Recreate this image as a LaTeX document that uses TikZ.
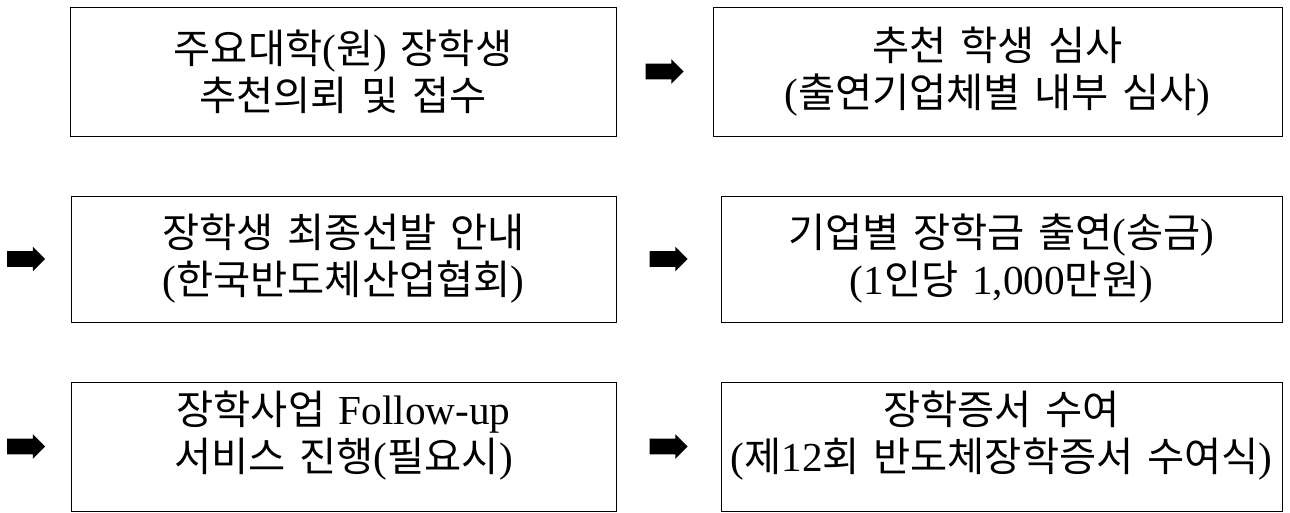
\documentclass[tikz,border=0pt]{standalone}
\usepackage{fontspec}
\setmainfont{Noto Sans CJK KR}[WordSpace=1.5]
\newfontfamily\tms[Scale=1.02]{Liberation Serif}
\newcommand{\lt}[1]{{\tms #1}}
\usetikzlibrary{shapes.arrows, positioning}
\tikzset{
  stepbox/.style = {draw=black, rectangle, align=center, inner sep=0pt,
    text centered, font=\fontsize{23}{26.7}\selectfont},
  blk/.style = {single arrow, fill=black, draw=none, inner xsep=0pt,
    inner ysep=0.15cm, minimum height=0.76cm, single arrow head extend=0.09cm}
}
\begin{document}
\begin{tikzpicture}[x=0.02cm, y=-0.02cm]
\useasboundingbox (0,0) rectangle (1290,512);
% row 1
\node [stepbox, minimum width=10.92cm, minimum height=2.58cm] (b1) at (343,71.5)
  {주요대학\lt{(}원\lt{)} 장학생\\추천의뢰 및 접수};
\node [stepbox, minimum width=11.38cm, minimum height=2.58cm] (b2) at (997.5,71.5)
  {추천 학생 심사\\\lt{(}출연기업체별 내부 심사\lt{)}};
\node [blk, right=0.58cm of b1] (a1) {};
% row 2
\node [stepbox, minimum width=10.9cm, minimum height=2.52cm] (b3) at (343.5,259)
  {장학생 최종선발 안내\\\lt{(}한국반도체산업협회\lt{)}};
\node [stepbox, minimum width=11.22cm, minimum height=2.52cm] (b4) at (1001.5,259)
  {기업별 장학금 출연\lt{(}송금\lt{)}\\\lt{(1}인당 \lt{1,000}만원\lt{)}};
\node [blk, left=0.5cm of b3] (a2) {};
\node [blk, right=0.66cm of b3] (a3) {};
% row 3
\node [stepbox, minimum width=10.9cm, minimum height=2.58cm, text depth=0.6cm] (b5) at (343.5,446.5)
  {장학사업 \lt{Follow-up}\\서비스 진행\lt{(}필요시\lt{)}};
\node [stepbox, minimum width=11.22cm, minimum height=2.58cm, text depth=0.6cm] (b6) at (1001.5,446.5)
  {장학증서 수여\\\lt{(}제\lt{12}회 반도체장학증서 수여식\lt{)}};
\node [blk, left=0.5cm of b5] (a4) {};
\node [blk, right=0.66cm of b5] (a5) {};
\end{tikzpicture}
\end{document}
